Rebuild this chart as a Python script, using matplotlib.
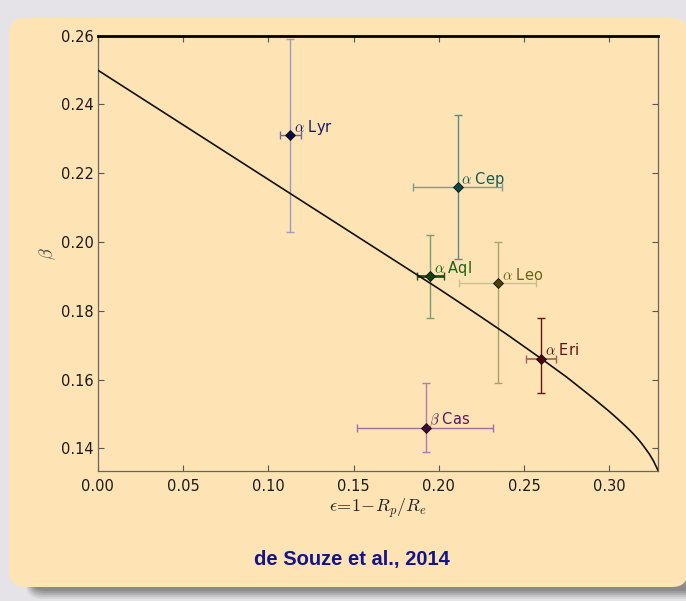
import numpy as np
import matplotlib
matplotlib.use("Agg")
import matplotlib.pyplot as plt
from matplotlib.patches import FancyBboxPatch

plt.rcParams["mathtext.fontset"] = "cm"
plt.rcParams["font.family"] = ["DejaVu Sans"]

# Model curve: gravity-darkening exponent versus flattening
curve_eps = [0.000, 0.050, 0.100, 0.150, 0.200, 0.220, 0.240, 0.260, 0.275,
             0.290, 0.300, 0.305, 0.310, 0.3125, 0.315, 0.3175, 0.320, 0.3235,
             0.326, 0.3287]
curve_beta = [0.2500, 0.2341, 0.2182, 0.2023, 0.1864, 0.1798, 0.1731, 0.1661,
              0.1607, 0.1548, 0.1507, 0.1485, 0.1462, 0.1450, 0.1437, 0.1423,
              0.1407, 0.1383, 0.1362, 0.1334]

# Interferometric measurements
stars = ["$\\alpha$ Lyr", "$\\alpha$ Cep", "$\\alpha$ Aql",
         "$\\alpha$ Leo", "$\\alpha$ Eri", "$\\beta$ Cas"]
eps = [0.113, 0.211, 0.195, 0.235, 0.260, 0.1925]
eps_lo = [0.0064, 0.026, 0.008, 0.023, 0.009, 0.0406]
eps_hi = [0.0064, 0.026, 0.008, 0.022, 0.009, 0.0391]
beta = [0.231, 0.216, 0.190, 0.188, 0.166, 0.146]
beta_lo = [0.028, 0.021, 0.012, 0.029, 0.010, 0.007]
beta_hi = [0.028, 0.021, 0.012, 0.012, 0.012, 0.013]

marker_colors = ["#08084a", "#0a4848", "#0a440a", "#44440a", "#4a0808", "#44083f"]
vbar_colors = ["#9c9cc0", "#5f8a86", "#76a070", "#a8a26c", "#6a1414", "#b07ab4"]
hbar_colors = ["#6a6aa0", "#7a9a96", "#145414", "#c8c090", "#a0605a", "#a06ca4"]
hbar_widths = [1.0, 1.0, 2.0, 1.0, 1.2, 1.0]
text_colors = ["#16166a", "#105858", "#146414", "#646414", "#600e0e", "#5c145c"]

W, H, DPI = 686, 601, 100
fig = plt.figure(figsize=(W / DPI, H / DPI), dpi=DPI)
fig.patch.set_facecolor("#e5e3e7")

# Panel shadow and panel
for i, a in enumerate([0.10, 0.14, 0.18, 0.22, 0.26]):
    off = 12 - 2 * i
    sh = FancyBboxPatch((26 + i, 14 - off), W + 40, 560, boxstyle="round,pad=0,rounding_size=16",
                        transform=None, facecolor="#5a5a5a", edgecolor="none", alpha=a, zorder=-3)
    fig.patches.append(sh)
panel = FancyBboxPatch((9, 14), W - 7, 569, boxstyle="round,pad=0,rounding_size=16",
                       transform=None, facecolor="#fee4b4", edgecolor="none", zorder=-2)
fig.patches.append(panel)

ax = fig.add_axes([97.7 / W, 1 - 471 / H, (658.3 - 97.7) / W, (471 - 35.7) / H])
ax.set_facecolor("none")

ax.plot(curve_eps, curve_beta, color="#111111", lw=1.2, zorder=3)

for i in range(len(stars)):
    ax.errorbar(eps[i], beta[i], yerr=[[beta_lo[i]], [beta_hi[i]]], fmt="none",
                ecolor=vbar_colors[i], elinewidth=1.0, capsize=3.2, capthick=1.0, zorder=2)
    ax.errorbar(eps[i], beta[i], xerr=[[eps_lo[i]], [eps_hi[i]]], fmt="none",
                ecolor=hbar_colors[i], elinewidth=hbar_widths[i], capsize=3.2, capthick=1.0, zorder=2)
    ax.plot(eps[i], beta[i], marker="D", ms=5.5, color=marker_colors[i],
            mec="#111111", mew=0.6, zorder=4)
    ax.text(eps[i] + 0.002, beta[i] + 0.001, stars[i], color=text_colors[i],
            fontsize=10.5, ha="left", va="baseline", zorder=5)

ax.set_xlim(0, 0.3287)
ax.set_ylim(0.1334, 0.26)
ax.set_xticks(np.arange(0, 0.31, 0.05))
ax.set_yticks(np.arange(0.14, 0.261, 0.02))
ax.xaxis.set_major_formatter(matplotlib.ticker.FormatStrFormatter("%.2f"))
ax.yaxis.set_major_formatter(matplotlib.ticker.FormatStrFormatter("%.2f"))
ax.tick_params(direction="in", length=4, width=0.8, color="#555555",
               labelsize=10.5, labelcolor="#1a1a1a", top=True, right=True)
ax.tick_params(axis="x", pad=6)
ax.tick_params(axis="y", pad=3)
for side in ["left", "bottom", "right"]:
    ax.spines[side].set_color("#666666")
    ax.spines[side].set_linewidth(0.9)
ax.spines["top"].set_color("#000000")
ax.spines["top"].set_linewidth(2.0)

ax.set_xlabel(r"$\epsilon\!=\!1\!-\!R_p/R_e$", fontsize=13, color="#222222", labelpad=2)
ax.set_ylabel(r"$\beta$", fontsize=13, color="#444444", labelpad=2)

fig.text(351.5 / W, 1 - 560 / H, "de Souze et al., 2014", ha="center", va="center",
         fontsize=14.5, fontweight="bold", family="Liberation Sans", color="#13138a")

fig.savefig("out.png", dpi=DPI, facecolor=fig.get_facecolor())
